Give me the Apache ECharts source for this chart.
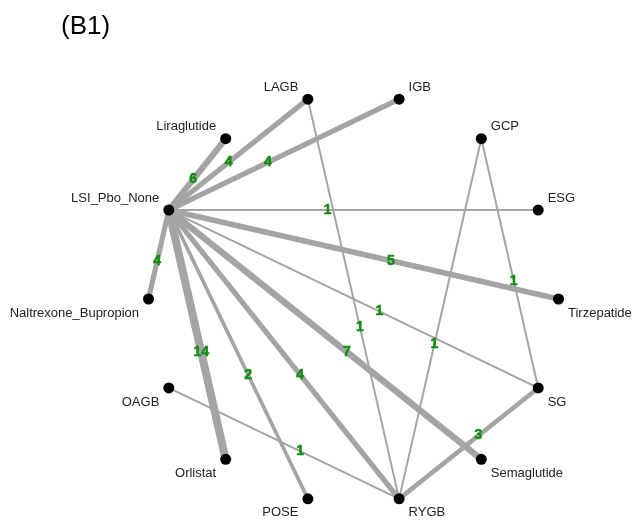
<!DOCTYPE html>
<html>
<head>
<meta charset="utf-8">
<script src="https://cdn.jsdelivr.net/npm/echarts@6/dist/echarts.min.js"></script>
<style>
  html, body { margin: 0; padding: 0; background: #fff; }
  #chart { width: 641px; height: 525px; }
</style>
</head>
<body>
<div id="chart"></div>
<script>
// Treatments, placed around the circle counter-clockwise starting from ESG
const treatments = ["ESG", "GCP", "IGB", "LAGB", "Liraglutide", "LSI_Pbo_None",
  "Naltrexone_Bupropion", "OAGB", "Orlistat", "POSE", "RYGB", "Semaglutide", "SG", "Tirzepatide"];

// Direct comparisons: endpoints and number of studies on each
const comparisonFrom = ["ESG", "GCP", "GCP", "IGB", "LAGB", "LAGB", "Liraglutide",
  "LSI_Pbo_None", "LSI_Pbo_None", "LSI_Pbo_None", "LSI_Pbo_None", "LSI_Pbo_None",
  "LSI_Pbo_None", "LSI_Pbo_None", "OAGB", "RYGB"];
const comparisonTo = ["LSI_Pbo_None", "RYGB", "SG", "LSI_Pbo_None", "LSI_Pbo_None", "RYGB",
  "LSI_Pbo_None", "Naltrexone_Bupropion", "Orlistat", "POSE", "RYGB", "Semaglutide",
  "SG", "Tirzepatide", "RYGB", "SG"];
const studyCounts = [1, 1, 1, 4, 4, 1, 6, 4, 14, 2, 4, 7, 1, 5, 1, 3];

const titleText = "(B1)";

// Circular layout on a unit circle
const n = treatments.length;
const pos = {};
treatments.forEach((name, i) => {
  const a = (i + 1) * 2 * Math.PI / n;
  pos[name] = [Math.cos(a), Math.sin(a)];
});

const nodes = treatments.map(name => {
  const [x, y] = pos[name];
  const right = x > 1e-9;
  const up = y > 1e-9;
  return {
    name: name,
    value: [x, y],
    label: {
      show: true,
      position: right ? 'right' : 'left',
      distance: 4,
      offset: [0, up ? -12 : 14]
    }
  };
});

const edgeWidth = c => 2 + 2.3 * Math.log(c);

const links = comparisonFrom.map((s, i) => ({
  source: s,
  target: comparisonTo[i],
  lineStyle: { width: edgeWidth(studyCounts[i]) }
}));

// Study counts sit a little past the middle of each edge, measured from its first endpoint
const labelAt = 0.57;
const countLabels = comparisonFrom.map((s, i) => {
  const p = pos[s], q = pos[comparisonTo[i]];
  return {
    value: [p[0] + labelAt * (q[0] - p[0]), p[1] + labelAt * (q[1] - p[1]), studyCounts[i]]
  };
});

const chart = echarts.init(document.getElementById('chart'));
chart.setOption({
  backgroundColor: '#ffffff',
  animation: false,
  title: {
    text: titleText,
    left: 56,
    top: 9,
    textStyle: { fontFamily: 'Liberation Sans, Arial, sans-serif', fontSize: 26, fontWeight: 'normal', color: '#000' }
  },
  grid: { left: 128, top: 73.5, width: 451, height: 451 },
  xAxis: { type: 'value', min: -1.1, max: 1.1, show: false },
  yAxis: { type: 'value', min: -1.1, max: 1.1, show: false },
  series: [
    {
      type: 'graph',
      coordinateSystem: 'cartesian2d',
      layout: 'none',
      symbol: 'circle',
      symbolSize: 11,
      itemStyle: { color: '#000' },
      label: {
        fontFamily: 'Liberation Sans, Arial, sans-serif',
        fontSize: 13,
        color: '#222'
      },
      lineStyle: { color: '#a4a4a4', opacity: 1, curveness: 0 },
      emphasis: { disabled: true },
      data: nodes,
      links: links,
      z: 2
    },
    {
      type: 'scatter',
      symbol: 'circle',
      symbolSize: 1,
      itemStyle: { color: 'rgba(255,255,255,0)' },
      z: 5,
      data: countLabels,
      label: {
        show: true,
        position: 'inside',
        formatter: p => String(p.value[2]),
        fontFamily: 'Liberation Sans, Arial, sans-serif',
        fontSize: 14,
        fontWeight: 'bold',
        color: '#138a13',
        opacity: 1,
        textBorderWidth: 0.6,
        textBorderColor: '#1c9a1c'
      },
      emphasis: { disabled: true }
    }
  ]
});
</script>
</body>
</html>
